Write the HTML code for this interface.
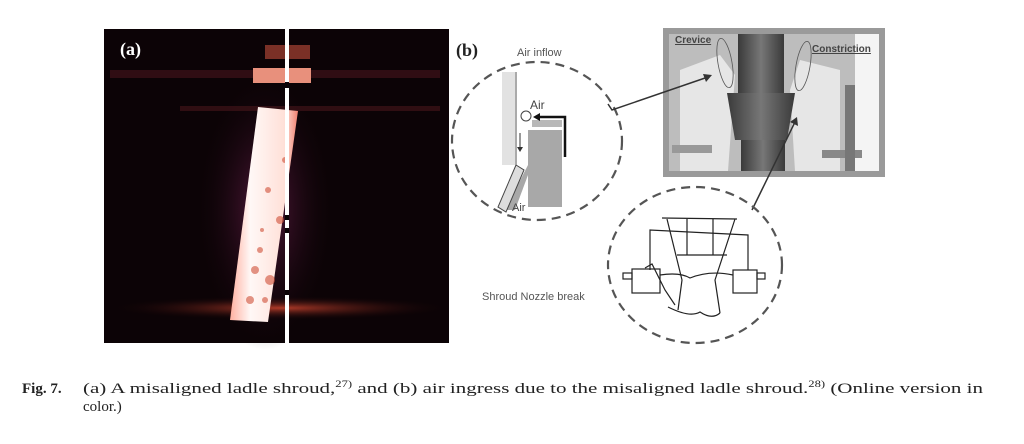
<!DOCTYPE html>
<html><head><meta charset="utf-8"><style>
html,body{margin:0;padding:0;background:#fff;}
svg{display:block;}
</style></head><body>
<svg width="1024" height="444" viewBox="0 0 1024 444" xmlns="http://www.w3.org/2000/svg">
<defs>
<linearGradient id="glow" x1="0" y1="0" x2="1" y2="0">
<stop offset="0" stop-color="#ffb0a0"/><stop offset="0.3" stop-color="#fff8f6"/><stop offset="0.8" stop-color="#ffe0d8"/><stop offset="1" stop-color="#f08070"/>
</linearGradient>
<linearGradient id="pipe" x1="0" y1="0" x2="1" y2="0">
<stop offset="0" stop-color="#3a3a3a"/><stop offset="0.5" stop-color="#777"/><stop offset="1" stop-color="#3a3a3a"/>
</linearGradient>
<radialGradient id="floor" cx="0.5" cy="0.5" r="0.5">
<stop offset="0" stop-color="#b03a28"/><stop offset="1" stop-color="#100306" stop-opacity="0"/>
</radialGradient>
<radialGradient id="halo" cx="0.5" cy="0.5" r="0.5">
<stop offset="0" stop-color="#5a1a40"/><stop offset="1" stop-color="#0c0306" stop-opacity="0"/>
</radialGradient>
</defs>
<!-- Photo (a) -->
<rect x="104" y="29" width="345" height="314" fill="#0c0306"/>
<ellipse cx="265" cy="210" rx="70" ry="140" fill="url(#halo)"/>
<rect x="110" y="70" width="330" height="8" fill="#3a1016" opacity="0.8"/>
<rect x="180" y="106" width="260" height="5" fill="#401418" opacity="0.7"/>
<rect x="265" y="45" width="45" height="14" fill="#7a3026"/>
<rect x="253" y="68" width="58" height="15" fill="#e8907c"/>
<ellipse cx="280" cy="308" rx="170" ry="12" fill="url(#floor)"/>
<polygon points="258,107 298,111 268,322 230,320" fill="url(#glow)"/>
<g fill="#d05038" opacity="0.6">
<circle cx="268" cy="190" r="3"/><circle cx="280" cy="220" r="4"/><circle cx="260" cy="250" r="3"/><circle cx="270" cy="280" r="5"/><circle cx="250" cy="300" r="4"/><circle cx="285" cy="160" r="3"/><circle cx="262" cy="230" r="2"/><circle cx="255" cy="270" r="4"/><circle cx="265" cy="300" r="3"/>
</g>
<rect x="285" y="29" width="4" height="314" fill="#fff"/>
<g fill="#0c0306"><rect x="285" y="82" width="4" height="6"/><rect x="285" y="215" width="4" height="5"/><rect x="285" y="228" width="4" height="5"/><rect x="285" y="290" width="4" height="5"/></g>
<text x="120" y="55" font-family="Liberation Serif,serif" font-weight="bold" font-size="18" fill="#fff">(a)</text>

<!-- (b) labels -->
<text x="456" y="56" font-family="Liberation Serif,serif" font-weight="bold" font-size="18" fill="#222">(b)</text>
<text x="517" y="56" font-family="Liberation Sans,sans-serif" font-size="11" fill="#555">Air inflow</text>
<text x="482" y="300" font-family="Liberation Sans,sans-serif" font-size="11" fill="#555">Shroud Nozzle break</text>

<!-- left circle -->
<ellipse cx="537" cy="141" rx="85" ry="79" fill="none" stroke="#555" stroke-width="2.2" stroke-dasharray="9,6"/>
<rect x="502" y="72" width="13" height="93" fill="#e2e2e2"/>
<line x1="516" y1="72" x2="516" y2="166" stroke="#555" stroke-width="1"/>
<rect x="528" y="130" width="34" height="77" fill="#a8a8a8"/>
<rect x="532" y="120" width="30" height="7" fill="#b8b8b8"/>
<polygon points="528,165 528,175 515,210 505,210" fill="#a8a8a8"/>
<polygon points="516,165 524,170 506,212 498,207" fill="#ddd" stroke="#444" stroke-width="1"/>
<polyline points="538,117 565,117 565,157" fill="none" stroke="#111" stroke-width="2.5"/>
<polygon points="533,117 540,113 540,121" fill="#111"/>
<circle cx="526" cy="116" r="5" fill="none" stroke="#444"/>
<line x1="520" y1="133" x2="520" y2="150" stroke="#333"/><polygon points="517,147 523,147 520,152" fill="#333"/>
<text x="530" y="109" font-family="Liberation Sans,sans-serif" font-size="12" fill="#444">Air</text>
<text x="512" y="211" font-family="Liberation Sans,sans-serif" font-size="11" fill="#444">Air</text>

<!-- grey box -->
<rect x="663" y="28" width="222" height="149" fill="#9a9a9a"/>
<rect x="669" y="34" width="210" height="137" fill="#bdbdbd"/>
<rect x="855" y="34" width="24" height="137" fill="#f4f4f4"/>
<polygon points="680,70 720,55 735,75 728,171 680,171" fill="#e6e6e6"/>
<polygon points="800,60 840,70 840,171 795,171 790,90" fill="#e6e6e6"/>
<rect x="672" y="145" width="40" height="8" fill="#999"/>
<rect x="822" y="150" width="40" height="8" fill="#888"/>
<rect x="845" y="85" width="10" height="86" fill="#777"/>
<rect x="738" y="34" width="46" height="60" fill="url(#pipe)"/>
<polygon points="727,93 795,93 787,140 735,140" fill="url(#pipe)"/>
<rect x="741" y="140" width="44" height="31" fill="url(#pipe)"/>
<ellipse cx="725" cy="63" rx="7" ry="25" fill="none" stroke="#555" stroke-width="0.8" transform="rotate(-10 725 63)"/>
<ellipse cx="803" cy="66" rx="7" ry="25" fill="none" stroke="#555" stroke-width="0.8" transform="rotate(10 803 66)"/>
<text x="675" y="43" font-family="Liberation Sans,sans-serif" font-weight="bold" font-size="10" fill="#444" text-decoration="underline">Crevice</text>
<text x="812" y="52" font-family="Liberation Sans,sans-serif" font-weight="bold" font-size="10" fill="#444" text-decoration="underline">Constriction</text>

<!-- connectors -->
<polyline points="608,104 612,110 708,77" fill="none" stroke="#333" stroke-width="1.5"/>
<polygon points="712,75 703,74 706,82" fill="#333"/>
<line x1="752" y1="210" x2="795" y2="122" stroke="#333" stroke-width="1.5"/>
<polygon points="797,117 790,122 798,126" fill="#333"/>

<!-- bottom circle -->
<ellipse cx="695" cy="265" rx="87" ry="78" fill="none" stroke="#555" stroke-width="2.2" stroke-dasharray="9,6"/>
<g fill="none" stroke="#222" stroke-width="1.2">
<line x1="662" y1="218" x2="737" y2="219"/>
<polyline points="650,270 650,230 748,235 748,270"/>
<polyline points="667,219 682,280 678,310"/>
<polyline points="735,219 715,280 720,313"/>
<line x1="687" y1="219" x2="687" y2="255"/><line x1="713" y1="219" x2="713" y2="255"/>
<line x1="677" y1="255" x2="727" y2="255"/>
<rect x="632" y="269" width="28" height="24"/><rect x="623" y="273" width="9" height="6"/>
<rect x="733" y="270" width="24" height="23"/><rect x="757" y="273" width="8" height="6"/>
<path d="M645,268 L652,264 L665,290 L675,305 M660,275 Q680,272 690,278 Q710,270 733,275"/>
<path d="M668,307 Q690,318 700,312 Q712,320 720,313"/>
</g>

<!-- caption -->
<text x="22" y="393" font-family="Liberation Serif,serif" font-weight="bold" font-size="15" fill="#222">Fig. 7.</text>
<text x="83" y="393" font-family="Liberation Serif,serif" font-size="15" fill="#222" textLength="900" lengthAdjust="spacingAndGlyphs">(a) A misaligned ladle shroud,<tspan font-size="9" dy="-6">27)</tspan><tspan dy="6"> and (b) air ingress due to the misaligned ladle shroud.</tspan><tspan font-size="9" dy="-6">28)</tspan><tspan dy="6"> (Online version in</tspan></text>
<text x="83" y="411" font-family="Liberation Serif,serif" font-size="15" fill="#222">color.)</text>
</svg>
</body></html>
